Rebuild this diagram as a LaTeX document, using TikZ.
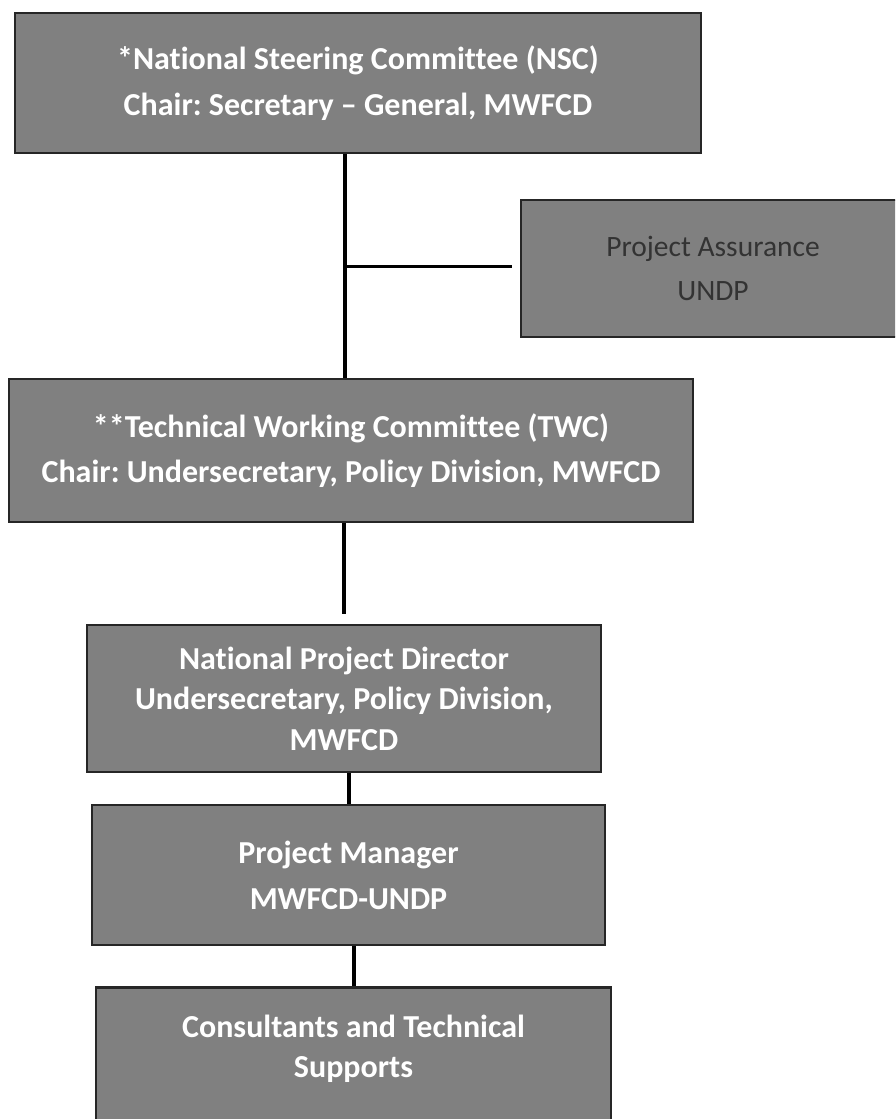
\documentclass[tikz,border=0pt]{standalone}
\usepackage{fontspec}
\setmainfont{Carlito}[Ligatures={TeX,NoCommon}]
\frenchspacing
\definecolor{boxgray}{gray}{0.5}
\tikzset{
  orgbox/.style={draw=black!85, line width=2.5pt, fill=boxgray, text=white,
    align=center, inner sep=0pt, font=\bfseries\fontsize{32}{40.5}\selectfont},
  sidebox/.style={orgbox, text=black!80, font=\fontsize{29.5}{40.5}\selectfont},
  link/.style={line width=4pt, black}
}
\begin{document}
\begin{tikzpicture}[x=1pt,y=-1pt]
\path[use as bounding box, clip] (0,0) rectangle (895,1119);
\fill[white] (0,0) rectangle (895,1119);

\node[orgbox, minimum width=686, minimum height=140] (nsc) at (358,83)
    {*National Steering Committee (NSC)\\[5.5pt]Chair: Secretary – General, MWFCD};
\node[sidebox, minimum width=384, minimum height=137] (pa) at (713,268.5)
    {Project Assurance\\[3.5pt]UNDP};
\node[orgbox, minimum width=684, minimum height=143] (twc) at (351,450.5)
    {**Technical Working Committee (TWC)\\[4.5pt]Chair: Undersecretary, Policy Division, MWFCD};
\node[orgbox, minimum width=514, minimum height=147] (npd) at (344,698.5)
    {National Project Director\\Undersecretary, Policy Division,\\MWFCD};
\node[orgbox, minimum width=513, minimum height=140] (pm) at (348.5,875)
    {Project Manager\\[5.5pt]MWFCD-UNDP};
\node[orgbox, minimum width=515, minimum height=171, anchor=north] (cts) at (353.5,986)
    {Consultants and Technical\\Supports\\\strut};

% connectors
\coordinate (junction) at (345,266);
\draw[link] (nsc.south -| junction) -- (twc.north -| junction);
\draw[link, line width=3pt, shorten >=8pt] (junction) -- (junction -| pa.west);
\draw[link, shorten >=10pt] (twc.south -| npd.north) -- (npd.north);
\draw[link] (npd.south -| pm.north) -- (pm.north);
\draw[link] (pm.south -| cts.north) -- (cts.north);
\end{tikzpicture}
\end{document}
